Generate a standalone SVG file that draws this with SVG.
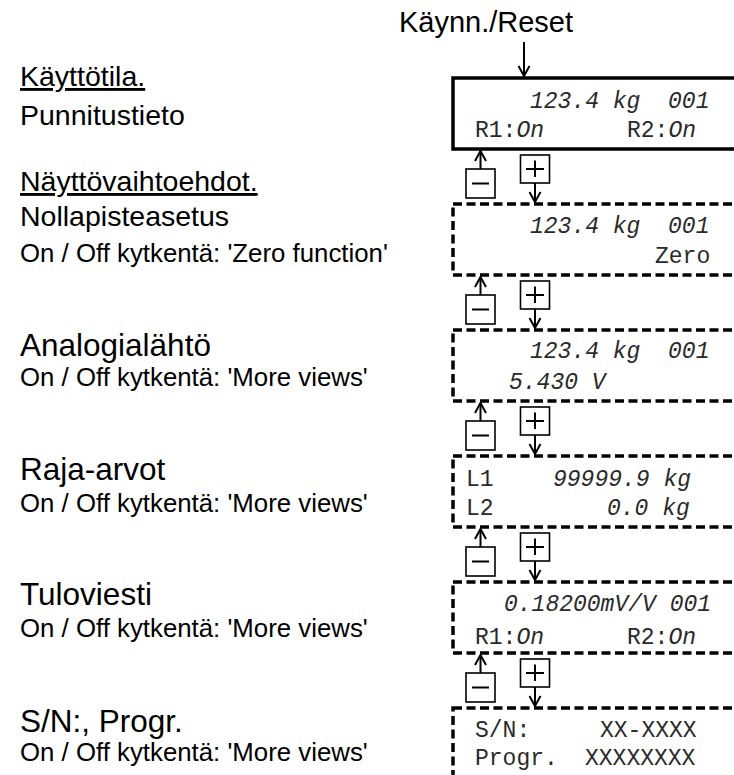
<svg xmlns="http://www.w3.org/2000/svg" width="734" height="775" viewBox="0 0 734 775">
<style>
.lbl{font-family:"Liberation Sans",Arial,sans-serif;fill:#000}
.h{font-size:28.5px}
.big{font-size:31.5px}
.sm{font-size:25.8px}
.u{text-decoration:underline}
.mono{font-family:"Liberation Mono","Courier New",monospace;font-size:23px;fill:#2a2a2a}
.it{font-style:italic}
.box{fill:none;stroke:#000;stroke-width:3.5}
.dash{stroke-dasharray:9 4.5}
.btn{fill:#fff;stroke:#000;stroke-width:1.6}
.sign{stroke:#000;stroke-width:2;fill:none}
.arr{stroke:#000;stroke-width:2;fill:none;marker-end:url(#ah)}
</style>
<defs>
<marker id="ah" markerUnits="userSpaceOnUse" markerWidth="14" markerHeight="14" viewBox="0 0 14 14" refX="12" refY="7" orient="auto">
<path d="M2,1.5 L12,7 L2,12.5" fill="none" stroke="#000" stroke-width="2"/>
</marker>
</defs>

<g id="labels">
<text class="lbl h u" x="20" y="86">Käyttötila.</text>
<text class="lbl h" x="20" y="125">Punnitustieto</text>
<text class="lbl h u" x="20" y="191">Näyttövaihtoehdot.</text>
<text class="lbl h" x="20" y="226">Nollapisteasetus</text>
<text class="lbl sm" x="20" y="262">On / Off kytkentä: 'Zero function'</text>
<text class="lbl big" x="20" y="356">Analogialähtö</text>
<text class="lbl sm" x="20" y="386">On / Off kytkentä: 'More views'</text>
<text class="lbl big" x="20" y="480">Raja-arvot</text>
<text class="lbl sm" x="20" y="512">On / Off kytkentä: 'More views'</text>
<text class="lbl big" x="20" y="605">Tuloviesti</text>
<text class="lbl sm" x="20" y="637">On / Off kytkentä: 'More views'</text>
<text class="lbl big" x="20" y="732">S/N:, Progr.</text>
<text class="lbl sm" x="20" y="761">On / Off kytkentä: 'More views'</text>
</g>

<g id="reset-label">
<text class="lbl" style="font-size:29px" x="486" y="32" text-anchor="middle">Käynn./Reset</text>
</g>

<g id="display-weight">
<rect class="box" x="453" y="78" width="320" height="71"/>
<text class="mono it" x="530" y="108" xml:space="preserve">123.4 kg  001</text>
<text class="mono" x="475" y="137">R1:<tspan class="it">On</tspan></text>
<text class="mono" x="627" y="137">R2:<tspan class="it">On</tspan></text>
</g>

<g id="display-zero">
<rect class="box dash" x="453" y="204" width="320" height="71"/>
<text class="mono it" x="530" y="233" xml:space="preserve">123.4 kg  001</text>
<text class="mono" x="655" y="263">Zero</text>
</g>

<g id="display-analog">
<rect class="box dash" x="453" y="330" width="320" height="71"/>
<text class="mono it" x="530" y="358" xml:space="preserve">123.4 kg  001</text>
<text class="mono it" x="509" y="389">5.430 V</text>
</g>

<g id="display-limits">
<rect class="box dash" x="453" y="456" width="320" height="71"/>
<text class="mono" x="466" y="486">L1</text>
<text class="mono it" x="553" y="486">99999.9 kg</text>
<text class="mono" x="466" y="515">L2</text>
<text class="mono it" x="607" y="515">0.0 kg</text>
</g>

<g id="display-input">
<rect class="box dash" x="453" y="582" width="320" height="71"/>
<text class="mono it" x="504" y="611">0.18200mV/V 001</text>
<text class="mono" x="475" y="644">R1:<tspan class="it">On</tspan></text>
<text class="mono" x="627" y="644">R2:<tspan class="it">On</tspan></text>
</g>

<g id="display-serial">
<rect class="box dash" x="453" y="708" width="320" height="80"/>
<text class="mono" x="475" y="737">S/N:</text>
<text class="mono" x="600" y="737">XX-XXXX</text>
<text class="mono" x="475" y="765">Progr.</text>
<text class="mono" x="585" y="765">XXXXXXXX</text>
</g>

<g id="buttons">
<g id="btn1">
<rect class="btn" x="520.5" y="155" width="29" height="28"/><path class="sign" d="M526,169 H544 M535,160.5 V177"/>
<rect class="btn" x="466" y="169" width="29" height="29"/><path class="sign" d="M472,183.5 H489"/>
</g>
<g id="btn2">
<rect class="btn" x="520.5" y="281" width="29" height="28"/><path class="sign" d="M526,295 H544 M535,286.5 V303"/>
<rect class="btn" x="466" y="295" width="29" height="29"/><path class="sign" d="M472,309.5 H489"/>
</g>
<g id="btn3">
<rect class="btn" x="520.5" y="407" width="29" height="28"/><path class="sign" d="M526,421 H544 M535,412.5 V429"/>
<rect class="btn" x="466" y="421" width="29" height="29"/><path class="sign" d="M472,435.5 H489"/>
</g>
<g id="btn4">
<rect class="btn" x="520.5" y="533" width="29" height="28"/><path class="sign" d="M526,547 H544 M535,538.5 V555"/>
<rect class="btn" x="466" y="547" width="29" height="29"/><path class="sign" d="M472,561.5 H489"/>
</g>
<g id="btn5">
<rect class="btn" x="520.5" y="659" width="29" height="28"/><path class="sign" d="M526,673 H544 M535,664.5 V681"/>
<rect class="btn" x="466" y="673" width="29" height="29"/><path class="sign" d="M472,687.5 H489"/>
</g>
</g>

<g id="connectors">
<line class="arr" x1="524" y1="42" x2="524" y2="76"/>
<line class="arr" x1="480.5" y1="169" x2="480.5" y2="151"/>
<line class="arr" x1="535" y1="183" x2="535" y2="202"/>
<line class="arr" x1="480.5" y1="295" x2="480.5" y2="277"/>
<line class="arr" x1="535" y1="309" x2="535" y2="328"/>
<line class="arr" x1="480.5" y1="421" x2="480.5" y2="403"/>
<line class="arr" x1="535" y1="435" x2="535" y2="454"/>
<line class="arr" x1="480.5" y1="547" x2="480.5" y2="529"/>
<line class="arr" x1="535" y1="561" x2="535" y2="580"/>
<line class="arr" x1="480.5" y1="673" x2="480.5" y2="655"/>
<line class="arr" x1="535" y1="687" x2="535" y2="706"/>
</g>
</svg>
